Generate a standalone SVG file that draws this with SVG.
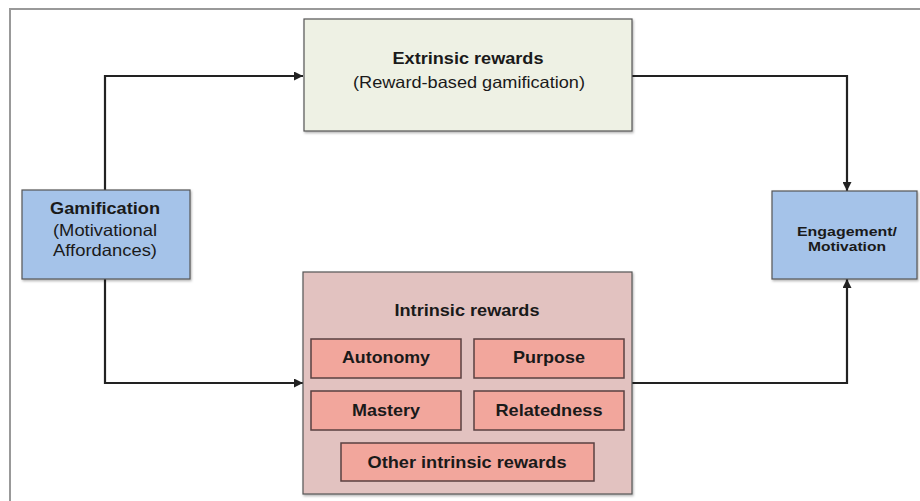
<svg xmlns="http://www.w3.org/2000/svg" width="920" height="501" viewBox="0 0 920 501">
<defs>
<marker id="ah" viewBox="0 0 10 10" refX="10" refY="5" markerWidth="9" markerHeight="9" markerUnits="userSpaceOnUse" orient="auto">
<path d="M0,0 L10,5 L0,10 z" fill="#222"/>
</marker>
<filter id="sh" x="-5%" y="-5%" width="110%" height="115%">
<feDropShadow dx="1" dy="1.5" stdDeviation="1" flood-color="#000" flood-opacity="0.3"/>
</filter>
</defs>
<style>
.t{font-family:"Liberation Sans",Arial,sans-serif;fill:#1a1a1a;text-anchor:middle}
.b{font-weight:bold}
.box{stroke:#555;stroke-width:1.2}
.blue{fill:#a5c3e9}
.sub{fill:#f2a69c;stroke:#5a4040;stroke-width:1.5}
.conn{fill:none;stroke:#222;stroke-width:2.2}
</style>
<rect width="920" height="501" fill="#fff"/>
<path d="M10,501 V9 H920" fill="none" stroke="#999" stroke-width="2"/>

<g id="connectors">
<path class="conn" d="M105,190 V76 H303" marker-end="url(#ah)"/>
<path class="conn" d="M105,279 V383 H303" marker-end="url(#ah)"/>
<path class="conn" d="M632,76 H847 V191" marker-end="url(#ah)"/>
<path class="conn" d="M632,383 H847 V279" marker-end="url(#ah)"/>
</g>

<g id="extrinsic">
<rect class="box" x="304" y="19" width="328" height="112" fill="#eef1e4" filter="url(#sh)"/>
<text class="t b" x="468" y="64" font-size="16.5" textLength="151" lengthAdjust="spacingAndGlyphs">Extrinsic rewards</text>
<text class="t" x="469" y="88" font-size="16.5" textLength="232" lengthAdjust="spacingAndGlyphs">(Reward-based gamification)</text>
</g>

<g id="gamification">
<rect class="box blue" x="22" y="190" width="168" height="89" filter="url(#sh)"/>
<text class="t b" x="105" y="214" font-size="16.5" textLength="110" lengthAdjust="spacingAndGlyphs">Gamification</text>
<text class="t" x="105" y="236" font-size="16.5" textLength="104" lengthAdjust="spacingAndGlyphs">(Motivational</text>
<text class="t" x="105" y="256" font-size="16.5" textLength="104" lengthAdjust="spacingAndGlyphs">Affordances)</text>
</g>

<g id="engagement">
<rect class="box blue" x="772" y="191" width="145" height="88" filter="url(#sh)"/>
<text class="t b" x="847" y="236" font-size="12.5" textLength="100" lengthAdjust="spacingAndGlyphs">Engagement/</text>
<text class="t b" x="847" y="251" font-size="12.5" textLength="78" lengthAdjust="spacingAndGlyphs">Motivation</text>
</g>

<g id="intrinsic">
<rect class="box" x="303" y="272" width="329" height="222" fill="#e2c2c0" filter="url(#sh)"/>
<text class="t b" x="467" y="316" font-size="16.5" textLength="145" lengthAdjust="spacingAndGlyphs">Intrinsic rewards</text>
</g>

<g id="autonomy">
<rect class="sub" x="311" y="339" width="150" height="39"/>
<text class="t b" x="386" y="363" font-size="16.5" textLength="88" lengthAdjust="spacingAndGlyphs">Autonomy</text>
</g>
<g id="purpose">
<rect class="sub" x="474" y="339" width="150" height="39"/>
<text class="t b" x="549" y="363" font-size="16.5" textLength="72" lengthAdjust="spacingAndGlyphs">Purpose</text>
</g>
<g id="mastery">
<rect class="sub" x="311" y="391" width="150" height="39"/>
<text class="t b" x="386" y="416" font-size="16.5" textLength="68" lengthAdjust="spacingAndGlyphs">Mastery</text>
</g>
<g id="relatedness">
<rect class="sub" x="474" y="391" width="150" height="39"/>
<text class="t b" x="549" y="416" font-size="16.5" textLength="107" lengthAdjust="spacingAndGlyphs">Relatedness</text>
</g>
<g id="other">
<rect class="sub" x="341" y="443" width="253" height="38"/>
<text class="t b" x="467" y="468" font-size="16.5" textLength="199" lengthAdjust="spacingAndGlyphs">Other intrinsic rewards</text>
</g>
</svg>
